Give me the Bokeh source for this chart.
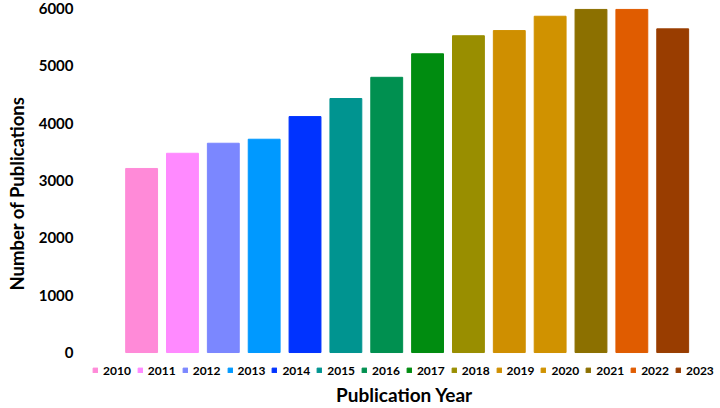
from bokeh.plotting import figure
from bokeh.models import ColumnDataSource, FixedTicker, Legend, LegendItem, Range1d
from bokeh.embed import file_html
from bokeh.resources import INLINE

years = list(range(2010, 2024))
year_labels = [str(y) for y in years]
counts = [3210, 3475, 3650, 3720, 4115, 4430, 4800, 5210, 5525, 5615, 5865, 5985, 5985, 5645]
colors = ["#FF8AD8", "#FF8AFF", "#7B87FF", "#0099FF", "#0033FF", "#009490", "#009050",
          "#008C10", "#998E00", "#CF8F00", "#D09200", "#8C7000", "#E05C00", "#993D00"]
y_ticks = [0, 1000, 2000, 3000, 4000, 5000, 6000]

FONT = "Lato"

src = ColumnDataSource(dict(year=years, count=counts, color=colors, label=year_labels))

p = figure(x_range=Range1d(2008.70, 2024.17), y_range=Range1d(-453, 6000),
           width=720, height=408,
           output_backend="svg", toolbar_location=None,
           min_border_left=88, min_border_right=0, min_border_top=8,
           min_border_bottom=30)
p.outline_line_color = None
p.grid.visible = False

r = p.vbar(x="year", top="count", width=0.78, color="color", source=src)

ax = p.yaxis[0]
ax.ticker = FixedTicker(ticks=y_ticks)
ax.axis_line_color = None
ax.major_tick_line_color = None
ax.minor_tick_line_color = None
ax.major_tick_out = 0
ax.major_label_standoff = 15
ax.major_label_text_font = FONT
ax.major_label_text_font_style = "bold"
ax.major_label_text_font_size = "15px"
ax.major_label_text_color = "#000000"
ax.axis_label = "Number of Publications"
ax.axis_label_text_font = FONT
ax.axis_label_text_font_style = "bold"
ax.axis_label_text_font_size = "18.5px"
ax.axis_label_text_color = "#000000"
ax.axis_label_standoff = 8

xa = p.xaxis[0]
xa.ticker = FixedTicker(ticks=[])
xa.axis_line_color = None
xa.major_tick_line_color = None
xa.minor_tick_line_color = None
xa.major_tick_out = 0
xa.major_label_standoff = 0
xa.axis_label = "Publication Year"
xa.axis_label_text_font = FONT
xa.axis_label_text_font_style = "bold"
xa.axis_label_text_font_size = "19px"
xa.axis_label_text_color = "#000000"
xa.axis_label_standoff = 4

legend = Legend(items=[LegendItem(label=lab, renderers=[r], index=i) for i, lab in enumerate(year_labels)],
                orientation="horizontal", location=(4, 0),
                glyph_width=6, glyph_height=6, label_standoff=5, spacing=6,
                label_height=16, padding=0, margin=0,
                label_text_font=FONT, label_text_font_style="bold",
                label_text_font_size="12px", label_text_color="#000000",
                border_line_color=None, background_fill_alpha=0)
p.add_layout(legend, "center")

open("out.html", "w").write(file_html(p, INLINE))
